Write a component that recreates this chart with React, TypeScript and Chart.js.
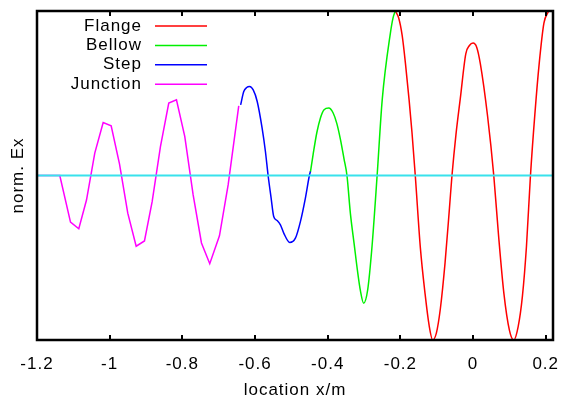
import React, { useEffect, useRef } from 'react';
import { Chart, registerables } from 'chart.js';

Chart.register(...registerables);

// ---- data ----
const seriesLabels = ['Flange', 'Bellow', 'Step', 'Junction'];
const seriesColors = ['#ff0000', '#00f000', '#0000ff', '#ff00ff'];
const baselineColor = '#38e2ec';

const flangeX = [-0.214, -0.205, -0.195, -0.186, -0.176, -0.168, -0.159, -0.145, -0.132, -0.121, -0.111, -0.101, -0.09, -0.077, -0.065, -0.058, -0.047, -0.035, -0.02, -0.01, 0, 0.01, 0.02, 0.04, 0.057, 0.07, 0.085, 0.1, 0.112, 0.124, 0.136, 0.147, 0.158, 0.17, 0.182, 0.195, 0.208];
const flangeY = [1.0, 0.96, 0.85, 0.68, 0.46, 0.26, 0.0, -0.44, -0.72, -0.91, -1.0, -0.958, -0.81, -0.53, -0.2, 0.0, 0.25, 0.47, 0.74, 0.79, 0.805, 0.78, 0.68, 0.36, 0.0, -0.36, -0.72, -0.94, -1.0, -0.92, -0.73, -0.43, 0.0, 0.37, 0.68, 0.926, 1.0];

const bellowX = [-0.4476, -0.44, -0.43, -0.42, -0.41, -0.397, -0.385, -0.375, -0.365, -0.355, -0.347, -0.3376, -0.327, -0.318, -0.31, -0.301, -0.29, -0.278, -0.264, -0.25, -0.2275, -0.22, -0.214];
const bellowY = [0.02, 0.13, 0.26, 0.35, 0.40, 0.41, 0.38, 0.317, 0.22, 0.10, 0.0, -0.23, -0.42, -0.58, -0.70, -0.776, -0.695, -0.43, 0.0, 0.46, 0.866, 0.96, 1.0];

const stepX = [-0.6396, -0.631, -0.623, -0.615, -0.605, -0.594, -0.5805, -0.5714, -0.564, -0.5557, -0.5486, -0.5392, -0.5301, -0.521, -0.5045, -0.4889, -0.4751, -0.4614, -0.4504, -0.4476];
const stepY = [0.429, 0.51, 0.535, 0.541, 0.52, 0.45, 0.288, 0.146, 0.0, -0.137, -0.249, -0.274, -0.3, -0.35, -0.407, -0.381, -0.28, -0.137, 0.0, 0.024];

const junctionX = [-1.2, -1.1373, -1.1078, -1.085, -1.0638, -1.041, -1.0179, -0.9959, -0.973, -0.9502, -0.9271, -0.9043, -0.8831, -0.8603, -0.8374, -0.8162, -0.7934, -0.7703, -0.7474, -0.7246, -0.6979, -0.674, -0.6448];
const junctionY = [0, 0, -0.283, -0.324, -0.149, 0.136, 0.322, 0.302, 0.071, -0.229, -0.43, -0.398, -0.159, 0.175, 0.44, 0.46, 0.238, -0.118, -0.41, -0.536, -0.367, -0.057, 0.423];

const baselineX = [-1.2, 0.22];
const baselineY = [0, 0];

const xTickValues = [-1.2, -1, -0.8, -0.6, -0.4, -0.2, 0, 0.2];
const xTickLabels = ['-1.2', '-1', '-0.8', '-0.6', '-0.4', '-0.2', '0', '0.2'];
const xMin = -1.2;
const xMax = 0.22;
const yMin = -1;
const yMax = 1;
const xTitle = 'location x/m';
const yTitle = 'norm. Ex';

const FONT = '"Liberation Sans", Arial, Helvetica, sans-serif';

function toPoints(xs: number[], ys: number[]) {
  return xs.map((x, i) => ({ x, y: ys[i] }));
}

const framePlugin = {
  id: 'gnuFrame',
  beforeUpdate(chart: any) {
    chart.ctx.letterSpacing = '1px';
  },
  afterDraw(chart: any) {
    const { ctx, chartArea } = chart;
    const { left, right, top, bottom } = chartArea;
    const xs = chart.scales.x;
    ctx.save();
    ctx.letterSpacing = '1px';
    // ticks (inside, bottom and mirrored top)
    ctx.strokeStyle = '#000';
    ctx.lineWidth = 2;
    ctx.beginPath();
    xs.ticks.forEach((t: any) => {
      const px = Math.round(xs.getPixelForValue(t.value));
      ctx.moveTo(px, bottom);
      ctx.lineTo(px, bottom - 5);
      ctx.moveTo(px, top);
      ctx.lineTo(px, top + 5);
    });
    ctx.stroke();
    // border
    ctx.lineWidth = 2.5;
    ctx.strokeRect(left, top, right - left, bottom - top);
    // legend (gnuplot style: right-aligned text, then line sample)
    const textRight = left + 105;
    const lineStart = left + 118;
    const lineEnd = left + 170;
    const row0 = top + 15;
    const gap = 19.4;
    ctx.font = `17px ${FONT}`;
    ctx.textAlign = 'right';
    ctx.textBaseline = 'middle';
    let row = 0;
    chart.data.datasets.forEach((ds: any) => {
      if (!ds.label) return;
      const y = row0 + row * gap;
      ctx.fillStyle = '#000';
      ctx.fillText(ds.label, textRight, y);
      ctx.strokeStyle = ds.borderColor;
      ctx.lineWidth = 1.5;
      ctx.beginPath();
      ctx.moveTo(lineStart, y);
      ctx.lineTo(lineEnd, y);
      ctx.stroke();
      row++;
    });
    ctx.restore();
  },
};

export default function App() {
  const ref = useRef<HTMLCanvasElement | null>(null);

  useEffect(() => {
    document.body.style.margin = '0';
    const canvas = ref.current;
    if (!canvas) return;
    const xsList = [flangeX, bellowX, stepX, junctionX];
    const ysList = [flangeY, bellowY, stepY, junctionY];
    const datasets: any[] = [
      {
        label: '',
        data: toPoints(baselineX, baselineY),
        borderColor: baselineColor,
        borderWidth: 2,
        pointRadius: 0,
        order: 0,
      },
    ];
    seriesLabels.forEach((label, i) => {
      datasets.push({
        label,
        data: toPoints(xsList[i], ysList[i]),
        borderColor: seriesColors[i],
        borderWidth: 1.5,
        pointRadius: 0,
        order: seriesLabels.length - i,
        cubicInterpolationMode: label === 'Junction' ? 'default' : 'monotone',
        tension: label === 'Junction' ? 0 : 0.4,
      });
    });

    const chart = new Chart(canvas, {
      type: 'line',
      data: { datasets },
      plugins: [framePlugin],
      options: {
        responsive: false,
        animation: false,
        devicePixelRatio: 1,
        layout: { padding: { left: 0, top: 11, right: 10, bottom: 0 } },
        plugins: {
          legend: { display: false },
          tooltip: { enabled: false },
        },
        scales: {
          x: {
            type: 'linear',
            min: xMin,
            max: xMax,
            grid: { display: false, drawTicks: false },
            border: { display: false },
            ticks: {
              color: '#000',
              padding: 14,
              maxRotation: 0,
              autoSkip: false,
              font: { family: FONT, size: 17 },
              callback: (v: any) => {
                const i = xTickValues.findIndex((t) => Math.abs(t - Number(v)) < 1e-9);
                return i >= 0 ? xTickLabels[i] : '';
              },
            },
            title: {
              display: true,
              text: xTitle,
              color: '#000',
              font: { family: FONT, size: 17 },
              padding: { top: 0, bottom: -3 },
            },
            afterBuildTicks: (scale: any) => {
              scale.ticks = xTickValues.map((value) => ({ value }));
            },
            afterFit: (scale: any) => {
              scale.height = 58;
              scale.paddingLeft = 0;
              scale.paddingRight = 0;
            },
          },
          y: {
            type: 'linear',
            min: yMin,
            max: yMax,
            grid: { display: false, drawTicks: false },
            border: { display: false },
            ticks: { display: false },
            title: {
              display: true,
              text: yTitle,
              color: '#000',
              font: { family: FONT, size: 17 },
              padding: { top: 8, bottom: 0 },
            },
            afterFit: (scale: any) => {
              scale.width = 37;
              scale.paddingTop = 0;
              scale.paddingBottom = 0;
            },
          },
        },
      },
    });
    return () => chart.destroy();
  }, []);

  return (
    <div style={{ position: 'absolute', left: 0, top: 0, width: 563, height: 398, background: '#fff' }}>
      <canvas ref={ref} width={563} height={398} style={{ display: 'block' }} />
    </div>
  );
}
